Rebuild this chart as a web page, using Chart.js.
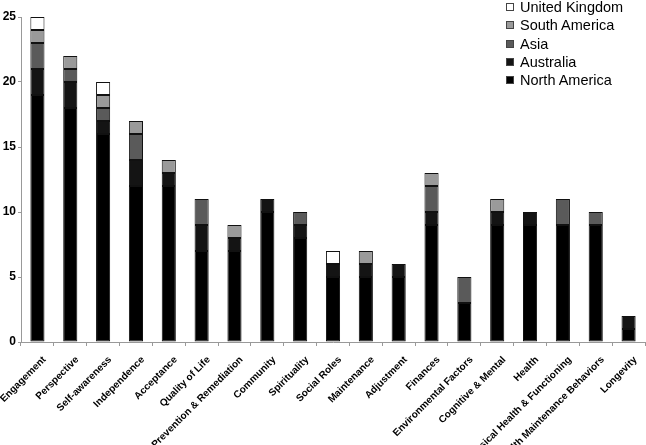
<!DOCTYPE html>
<html>
<head>
<meta charset="utf-8">
<script src="https://cdn.jsdelivr.net/npm/chart.js@4.4.0/dist/chart.umd.min.js"></script>
<style>
  body { margin: 0; background: #fff; }
  #wrap { position: relative; width: 646px; height: 445px; }
  #legend { position: absolute; left: 506px; top: -2px; font-family: "Liberation Sans", Arial, sans-serif; font-size: 14.5px; color: #000; }
  #legend div { height: 18.3px; line-height: 18.3px; white-space: nowrap; }
  #legend span { display: inline-block; width: 6px; height: 6px; border: 1px solid #444; margin-right: 6px; vertical-align: 1px; }
</style>
</head>
<body>
<div id="wrap">
  <canvas id="myChart"></canvas>
  <div id="legend"></div>
</div>
<script>
const categories = ["Engagement", "Perspective", "Self-awareness", "Independence", "Acceptance",
  "Quality of Life", "Prevention & Remediation", "Community", "Spirituality", "Social Roles",
  "Maintenance", "Adjustment", "Finances", "Environmental Factors", "Cognitive & Mental",
  "Health", "Physical Health & Functioning", "Health Maintenance Behaviors", "Longevity"];

// values per category, stacked bottom to top
const northAmerica  = [19, 18, 16, 12, 12, 7, 7, 10, 8, 5, 5, 5, 9, 3, 9, 9, 9, 9, 1];
const australia     = [2, 2, 1, 2, 1, 2, 1, 1, 1, 1, 1, 1, 1, 0, 1, 1, 0, 0, 1];
const asia          = [2, 1, 1, 2, 0, 2, 0, 0, 1, 0, 0, 0, 2, 2, 0, 0, 2, 1, 0];
const southAmerica  = [1, 1, 1, 1, 1, 0, 1, 0, 0, 0, 1, 0, 1, 0, 1, 0, 0, 0, 0];
const unitedKingdom = [1, 0, 1, 0, 0, 0, 0, 0, 0, 1, 0, 0, 0, 0, 0, 0, 0, 0, 0];

const yTicks = [0, 5, 10, 15, 20, 25];

const series = [
  { label: "North America", data: northAmerica, color: "#000000" },
  { label: "Australia", data: australia, color: "#141414" },
  { label: "Asia", data: asia, color: "#5a5a5a" },
  { label: "South America", data: southAmerica, color: "#9a9a9a" },
  { label: "United Kingdom", data: unitedKingdom, color: "#ffffff" }
];

const ctx = document.getElementById("myChart").getContext("2d");
const chart = new Chart(ctx, {
  type: "bar",
  data: {
    labels: categories,
    datasets: series.map(s => ({
      label: s.label,
      data: s.data,
      backgroundColor: s.color,
      borderColor: "#111",
      borderWidth: 1,
      borderSkipped: false,
      categoryPercentage: 1,
      barPercentage: 0.43
    }))
  },
  options: {
    responsive: true,
    maintainAspectRatio: false,
    animation: false,
    layout: { padding: { top: 17, right: 1 } },
    plugins: { legend: { display: false }, tooltip: { enabled: false } },
    scales: {
      x: {
        stacked: true,
        afterFit: scale => {
          scale.height = 103;
          scale.paddingLeft = 0;
          scale.paddingRight = 0;
        },
        grid: { display: true, drawOnChartArea: false, offset: true, tickLength: 4, color: "#999" },
        border: { color: "#999" },
        ticks: {
          minRotation: 45, maxRotation: 45, padding: 8, labelOffset: 7, autoSkip: false,
          color: "#000",
          font: { family: "Liberation Sans", size: 10, weight: "bold" }
        }
      },
      y: {
        stacked: true,
        min: 0, max: 25,
        afterFit: scale => { scale.width = 21; },
        afterBuildTicks: axis => { axis.ticks = yTicks.map(v => ({ value: v })); },
        grid: { display: true, drawOnChartArea: false, tickLength: 3, color: "#999" },
        border: { color: "#999" },
        ticks: {
          padding: 2, color: "#000",
          font: { family: "Liberation Sans", size: 12, weight: "bold" }
        }
      }
    }
  }
});

// legend, top entry is the top of the stack
const legend = document.getElementById("legend");
series.slice().reverse().forEach(s => {
  const row = document.createElement("div");
  row.innerHTML = '<span style="background:' + s.color + '"></span>' + s.label;
  legend.appendChild(row);
});
</script>
</body>
</html>
